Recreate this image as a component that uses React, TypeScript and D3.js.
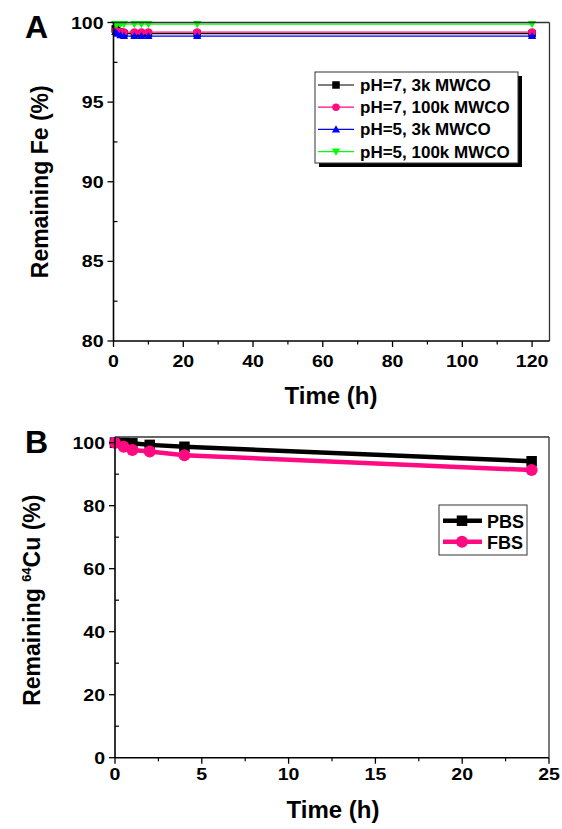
import React from "react";
import * as d3 from "d3";

// ---------- Panel A data ----------
const timesA = [0.5, 1, 2, 3, 6, 8, 10, 24, 120];
const pH7_3k = [99.6, 99.5, 99.4, 99.3, 99.3, 99.3, 99.3, 99.3, 99.3];
const pH7_100k = [99.5, 99.45, 99.4, 99.4, 99.4, 99.4, 99.4, 99.4, 99.4];
const pH5_3k = [99.4, 99.3, 99.2, 99.15, 99.15, 99.15, 99.15, 99.15, 99.15];
const pH5_100k = [99.9, 99.9, 99.9, 99.9, 99.9, 99.9, 99.9, 99.9, 99.9];
const seriesNamesA = ["pH=7, 3k MWCO", "pH=7, 100k MWCO", "pH=5, 3k MWCO", "pH=5, 100k MWCO"];
const xTicksA = [0, 20, 40, 60, 80, 100, 120];
const yTicksA = [80, 85, 90, 95, 100];

// ---------- Panel B data ----------
const timesB = [0, 0.5, 1, 2, 4, 24];
const pbs = [100, 99.9, 99.8, 99.3, 98.7, 94.1];
const fbs = [100, 98.7, 97.7, 97.2, 96.0, 91.3];
const seriesNamesB = ["PBS", "FBS"];
const xTicksB = [0, 5, 10, 15, 20, 25];
const yTicksB = [0, 20, 40, 60, 80, 100];

const FONT = "'Liberation Sans', Arial, Helvetica, sans-serif";
const PINK = "#ff0a80";

function Marker({ shape, x, y, size, color }: { shape: string; x: number; y: number; size: number; color: string }) {
  const h = size / 2;
  if (shape === "square") return <rect x={x - h} y={y - h} width={size} height={size} fill={color} />;
  if (shape === "circle") return <circle cx={x} cy={y} r={h} fill={color} />;
  if (shape === "up")
    return <path d={`M${x},${y - h * 1.1}L${x + h * 1.1},${y + h * 0.8}L${x - h * 1.1},${y + h * 0.8}Z`} fill={color} />;
  return <path d={`M${x},${y + h * 1.1}L${x + h * 1.1},${y - h * 0.8}L${x - h * 1.1},${y - h * 0.8}Z`} fill={color} />;
}

function TickText({ x, y, anchor, children }: { x: number; y: number; anchor: string; children: React.ReactNode }) {
  return (
    <text transform={`translate(${x},${y}) scale(1.15,1)`} textAnchor={anchor} fontSize={17} fontWeight="bold" fontFamily={FONT}>
      {children}
    </text>
  );
}

function Axes({
  x, y, xTicks, yTicks, xMinor, yMinor, xLabelY,
}: {
  x: d3.ScaleLinear<number, number>; y: d3.ScaleLinear<number, number>;
  xTicks: number[]; yTicks: number[]; xMinor: number[]; yMinor: number[]; xLabelY: number;
}) {
  const [x0, x1] = x.range();
  const [y0, y1] = y.range();
  return (
    <g>
      <line x1={x0} x2={x1} y1={y1} y2={y1} stroke="#333" strokeWidth={1.3} />
      <line x1={x1} x2={x1} y1={y1} y2={y0} stroke="#333" strokeWidth={1.3} />
      <line x1={x0} x2={x1} y1={y0} y2={y0} stroke="#000" strokeWidth={1.6} />
      <line x1={x0} x2={x0} y1={y0} y2={y1} stroke="#000" strokeWidth={1.6} />
      {xTicks.map((t) => (
        <g key={"xt" + t}>
          <line x1={x(t)} x2={x(t)} y1={y0} y2={y0 + 6} stroke="#000" strokeWidth={1.3} />
          <TickText x={x(t)} y={xLabelY} anchor="middle">{t}</TickText>
        </g>
      ))}
      {xMinor.map((t) => (
        <line key={"xm" + t} x1={x(t)} x2={x(t)} y1={y0} y2={y0 + 3.5} stroke="#000" strokeWidth={1.2} />
      ))}
      {yTicks.map((t) => (
        <g key={"yt" + t}>
          <line x1={x0 - 6} x2={x0} y1={y(t)} y2={y(t)} stroke="#000" strokeWidth={1.3} />
          <TickText x={x0 - 10} y={y(t) + 6} anchor="end">{t}</TickText>
        </g>
      ))}
      {yMinor.map((t) => (
        <line key={"ym" + t} x1={x0} x2={x0 + 4} y1={y(t)} y2={y(t)} stroke="#000" strokeWidth={1.2} />
      ))}
    </g>
  );
}

export default function App() {
  // Panel A scales
  const xA = d3.scaleLinear().domain([0, 125]).range([113.5, 549.5]);
  const yA = d3.scaleLinear().domain([80, 100]).range([341, 22.5]);
  // Panel B scales
  const xB = d3.scaleLinear().domain([0, 25]).range([115, 549]);
  const yB = d3.scaleLinear().domain([0, 101.8]).range([757.7, 437]);

  const seriesA = [
    { vals: pH7_3k, color: "#000", shape: "square" },
    { vals: pH7_100k, color: PINK, shape: "circle" },
    { vals: pH5_3k, color: "#0000ff", shape: "up" },
    { vals: pH5_100k, color: "#00ff00", shape: "down" },
  ];
  const seriesB = [
    { vals: pbs, color: "#000", shape: "square", size: 10.5 },
    { vals: fbs, color: PINK, shape: "circle", size: 12 },
  ];

  const lineA = (vals: number[]) =>
    d3.line<number>().x((_, i) => xA(timesA[i])).y((v) => yA(v))(vals) || "";
  const lineB = (vals: number[]) =>
    d3.line<number>().x((_, i) => xB(timesB[i])).y((v) => yB(v))(vals) || "";

  const xMinorA = d3.range(10, 125, 20);
  const yMinorA = [82.5, 87.5, 92.5, 97.5];
  const xMinorB = [2.5, 7.5, 12.5, 17.5, 22.5];
  const yMinorB = [10, 30, 50, 70, 90];

  return (
    <svg width={562} height={829} style={{ position: "absolute", left: 0, top: 0, background: "#fff" }}>
      <rect width={562} height={829} fill="#fff" />
      {/* ---------- Panel A ---------- */}
      <text x={25} y={38} fontSize={32} fontWeight="bold" fontFamily={FONT}>A</text>
      <text transform={`translate(48,${(yA(80) + yA(100)) / 2}) rotate(-90)`} textAnchor="middle" fontSize={23} fontWeight="bold" fontFamily={FONT}>
        Remaining Fe (%)
      </text>
      <text x={331} y={404} textAnchor="middle" fontSize={24} fontWeight="bold" fontFamily={FONT}>Time (h)</text>
      {seriesA.map((s, k) => (
        <g key={"sa" + k}>
          <path d={lineA(s.vals)} fill="none" stroke={s.color} strokeWidth={1.2} />
          {s.vals.map((v, i) => (
            <Marker key={i} shape={s.shape} x={xA(timesA[i])} y={yA(v)} size={7.5} color={s.color} />
          ))}
        </g>
      ))}
      <Axes x={xA} y={yA} xTicks={xTicksA} yTicks={yTicksA} xMinor={xMinorA} yMinor={yMinorA} xLabelY={367} />
      {/* Legend A */}
      <rect x={319} y={76} width={203} height={91} fill="#000" />
      <rect x={315} y={72} width={203} height={91} fill="#fff" stroke="#333" strokeWidth={1} />
      {seriesNamesA.map((name, k) => {
        const cy = 85 + k * 22.2;
        const s = seriesA[k];
        return (
          <g key={"la" + k}>
            <line x1={318} x2={354} y1={cy} y2={cy} stroke={s.color} strokeWidth={1.2} />
            <Marker shape={s.shape} x={336} y={cy} size={7.5} color={s.color} />
            <text x={360} y={cy + 6} fontSize={17} fontWeight="bold" fontFamily={FONT}>{name}</text>
          </g>
        );
      })}

      {/* ---------- Panel B ---------- */}
      <text x={25} y={453} fontSize={32} fontWeight="bold" fontFamily={FONT}>B</text>
      <text transform={`translate(40,${(yB(0) + yB(100)) / 2}) rotate(-90)`} textAnchor="middle" fontSize={23} fontWeight="bold" fontFamily={FONT}>
        Remaining <tspan fontSize={13} dy={-9}>64</tspan><tspan dy={9}>Cu (%)</tspan>
      </text>
      <text x={333} y={818} textAnchor="middle" fontSize={24} fontWeight="bold" fontFamily={FONT}>Time (h)</text>
      {seriesB.map((s, k) => (
        <g key={"sb" + k}>
          <path d={lineB(s.vals)} fill="none" stroke={s.color} strokeWidth={4.5} />
          {s.vals.map((v, i) => (
            <Marker key={i} shape={s.shape} x={xB(timesB[i])} y={yB(v)} size={s.size} color={s.color} />
          ))}
        </g>
      ))}
      <Axes x={xB} y={yB} xTicks={xTicksB} yTicks={yTicksB} xMinor={xMinorB} yMinor={yMinorB} xLabelY={780} />
      {/* Legend B */}
      <rect x={439} y={505} width={88} height={50} fill="#fff" stroke="#333" strokeWidth={1} />
      {seriesNamesB.map((name, k) => {
        const cy = 520.7 + k * 21;
        const s = seriesB[k];
        return (
          <g key={"lb" + k}>
            <line x1={443} x2={482} y1={cy} y2={cy} stroke={s.color} strokeWidth={4.5} />
            <Marker shape={s.shape} x={462} y={cy} size={s.size} color={s.color} />
            <text x={487} y={cy + 7} fontSize={18} fontWeight="bold" fontFamily={FONT}>{name}</text>
          </g>
        );
      })}
    </svg>
  );
}
